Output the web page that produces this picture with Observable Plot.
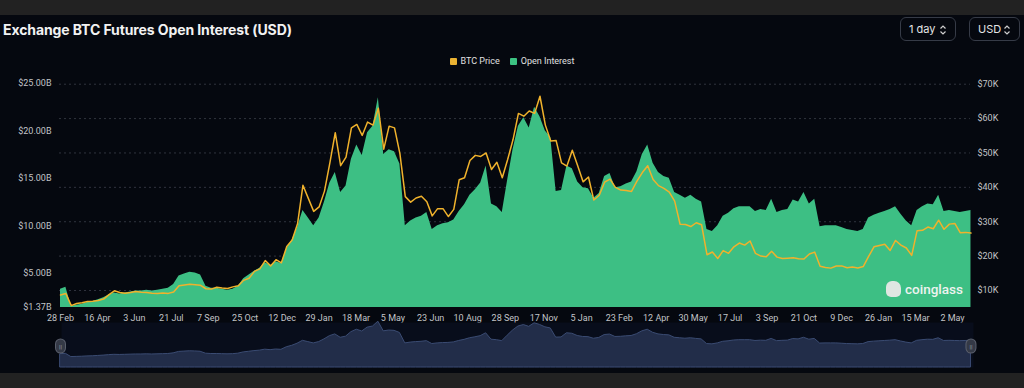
<!DOCTYPE html>
<html><head><meta charset="utf-8">
<script src="https://cdn.jsdelivr.net/npm/d3@7"></script>
<script src="https://cdn.jsdelivr.net/npm/@observablehq/plot@0.6"></script>
<style>
html,body{margin:0;padding:0;}
body{width:1024px;height:388px;background:#05080f;position:relative;overflow:hidden;font-family:"Inter","Liberation Sans",sans-serif;}
#topbar{position:absolute;left:0;top:0;width:1024px;height:15px;background:#222222;}
#botbar{position:absolute;left:0;top:373px;width:1024px;height:15px;background:#222222;}
#title{position:absolute;left:3px;top:21px;font-size:14px;font-weight:700;color:#f2f2f2;white-space:nowrap;letter-spacing:-0.1px;}
.btn{position:absolute;top:17px;height:24px;border:1px solid #363b47;border-radius:6px;box-sizing:border-box;color:#e4e4e4;font-size:11px;display:flex;align-items:center;padding-left:8px;font-family:"Inter",sans-serif;}
.btn svg{position:absolute;right:8px;top:6px;}
#legend{position:absolute;top:56px;left:0;width:1024px;display:flex;justify-content:center;gap:10px;font-size:9px;color:#e0e0e0;font-family:"Roboto",sans-serif;}
#legend span{display:flex;align-items:center;gap:4px;}
#legend i{display:inline-block;width:7px;height:7px;border-radius:1px;}
#main{position:absolute;left:0;top:70px;}
#nav{position:absolute;left:0;top:320px;}
#wm{position:absolute;left:886px;top:281px;display:flex;align-items:center;gap:4px;color:#eef3f0;font-family:"Roboto",sans-serif;font-weight:500;font-size:13.5px;}
#wm b{display:inline-block;width:15px;height:16px;background:#dfe6e2;border-radius:6px 7px 5px 5px;}
</style></head>
<body>
<div id="topbar"></div>
<div id="title">Exchange BTC Futures Open Interest (USD)</div>
<div class="btn" style="left:900px;width:56px;">1 day<svg width="8" height="12" viewBox="0 0 8 12"><path d="M1.5 4.5 L4 2 L6.5 4.5 M1.5 7.5 L4 10 L6.5 7.5" fill="none" stroke="#cfcfcf" stroke-width="1.2"/></svg></div>
<div class="btn" style="left:969px;width:51px;">USD<svg width="8" height="12" viewBox="0 0 8 12"><path d="M1.5 4.5 L4 2 L6.5 4.5 M1.5 7.5 L4 10 L6.5 7.5" fill="none" stroke="#cfcfcf" stroke-width="1.2"/></svg></div>
<div id="legend"><span><i style="background:#ebb232"></i>BTC Price</span><span><i style="background:#3cc282"></i>Open Interest</span></div>
<div id="main"></div>
<div id="nav"></div>
<div id="wm"><b></b>coinglass</div>
<div id="botbar"></div>
<script>
// weekly samples starting at this date
const weekStart = "2020-02-28";
// Open interest, billions USD
const oiB = [
3.3,3.5,1.5,1.6,1.7,1.9,2.0,2.2,2.4,2.7,2.9,2.8,2.9,3.0,3.1,3.1,3.2,3.1,3.2,3.3,3.4,3.8,4.7,4.9,5.1,5.0,4.8,3.6,3.4,3.4,3.3,3.2,3.3,3.6,4.4,4.8,5.2,5.5,6.1,5.8,6.2,6.0,7.6,8.5,
9.8,11.6,10.8,10.0,10.8,12.5,14.5,15.6,13.5,14.2,17.0,18.5,17.4,19.8,20.5,23.5,17.5,18.0,17.8,16.5,10.0,10.5,10.8,11.0,11.4,9.6,10.0,10.2,10.3,10.6,11.5,12.2,13.2,13.8,14.5,16.3,12.3,12.0,11.4,14.8,18.0,20.5,21.4,20.3,22.5,21.5,20.0,19.3,13.6,13.7,16.3,16.0,14.6,
14.0,13.9,12.9,13.4,15.2,15.5,14.0,14.1,14.4,14.6,15.7,17.5,18.5,16.6,15.6,15.2,15.0,13.5,13.2,12.9,13.2,12.8,12.5,9.6,9.4,10.0,11.0,11.3,11.8,12.0,12.0,12.0,11.5,11.7,11.6,12.8,11.4,11.6,11.7,12.7,12.5,13.5,12.3,12.8,9.9,10.0,10.0,10.0,9.8,9.6,9.5,9.4,
9.6,10.8,11.1,11.3,11.5,11.7,12.0,11.2,10.5,10.0,11.6,12.0,12.3,12.2,13.2,11.5,11.6,11.5,11.4,11.5,11.6
];
// BTC price, thousands USD
const btcK = [
8.7,9.1,5.6,6.2,6.4,6.8,6.9,7.1,7.5,8.8,9.9,9.4,9.2,9.4,9.7,9.5,9.4,9.2,9.1,9.25,9.15,9.55,11.35,11.6,11.8,11.65,11.5,10.5,10.4,10.95,10.7,10.6,11.05,11.35,12.95,13.55,15.55,16.3,18.7,17.15,18.95,18.05,22.8,24.7,
29.4,40.6,36.8,33.0,34.3,38.9,47.1,55.9,46.3,48.8,57.3,58.3,55.1,59.0,58.1,63.0,51.1,57.8,57.3,49.8,37.3,35.7,36.9,37.4,35.8,31.7,33.8,33.8,31.5,33.6,42.2,42.8,47.8,49.3,49.0,50.0,45.2,47.3,42.8,48.1,53.9,61.5,60.7,62.2,61.5,66.5,58.1,53.5,53.6,47.1,46.2,50.8,46.3,
41.6,43.0,36.3,37.7,41.5,42.4,40.0,39.2,39.1,38.8,41.8,44.3,46.3,42.3,40.5,39.7,38.6,36.0,29.3,29.2,28.6,29.7,29.1,20.4,21.2,19.3,21.6,20.8,22.7,23.8,23.2,24.4,20.8,20.0,19.8,21.4,19.7,19.3,19.4,19.5,19.2,19.15,20.6,21.15,17.05,16.7,16.5,17.1,17.15,16.6,16.8,16.55,
16.95,19.9,22.7,23.1,23.45,21.65,24.55,23.2,22.35,20.2,27.4,27.5,28.45,27.95,30.45,27.8,29.3,29.5,26.8,26.9,26.7
];
const xTicks = ["2020-02-28","2020-04-16","2020-06-03","2020-07-21","2020-09-07","2020-10-25","2020-12-12","2021-01-29","2021-03-18","2021-05-05","2021-06-23","2021-08-10","2021-09-28","2021-11-17","2022-01-05","2022-02-23","2022-04-12","2022-05-30","2022-07-17","2022-09-03","2022-10-21","2022-12-09","2023-01-26","2023-03-15","2023-05-02"];
const leftTicks = [1.37,5,10,15,20,25];
const rightTicks = [10,20,30,40,50,60,70];

const start = new Date(weekStart);
const rows = oiB.map((v,i)=>({date:d3.utcDay.offset(start,7*i), oi:v, btc:btcK[i]}));
// second axis (BTC, K) expressed in OI units
const toB = k => 0.36265*k - 0.4605;
const toK = b => (b + 0.4605)/0.36265;
const xDomain = [new Date(xTicks[0]), new Date(xTicks[xTicks.length-1])];
const font = "Roboto, 'Liberation Sans', sans-serif";

const main = Plot.plot({
  width:1024, height:262,
  marginLeft:59, marginRight:54, marginTop:13, marginBottom:25,
  style:{background:"transparent", color:"#c2c4c8", fontFamily:font, fontSize:"9px"},
  x:{type:"utc", domain:xDomain, range:[60,952], label:null},
  y:{domain:[1.37,25], label:null},
  marks:[
    Plot.gridY(rightTicks.map(toB), {stroke:"#3b3f4a", strokeOpacity:0.8, strokeDasharray:"2,3"}),
    Plot.areaY(rows, {x:"date", y1:() => 1.37, y2:"oi", fill:"#3dbf84", curve:"linear"}),
    Plot.lineY(rows, {x:"date", y:d => toB(d.btc), stroke:"#f0b22c", strokeWidth:1.5, curve:"linear"}),
    Plot.axisY(leftTicks, {anchor:"left", tickSize:0, tickPadding:8, label:null, tickFormat:d => `$${d.toFixed(2)}B`}),
    Plot.axisY(rightTicks.map(toB), {anchor:"right", tickSize:0, tickPadding:7, label:null, tickFormat:b => `$${Math.round(toK(b))}K`}),
    Plot.axisX(xTicks.map(s => new Date(s)), {anchor:"bottom", tickSize:0, tickPadding:7, label:null, tickFormat:d3.utcFormat("%-d %b")})
  ]
});
document.getElementById("main").appendChild(main);

const ends = [rows[0].date, rows[rows.length-1].date];
const nav = Plot.plot({
  width:1024, height:53,
  marginLeft:61, marginRight:51, marginTop:2, marginBottom:6,
  style:{background:"transparent", fontFamily:font},
  x:{type:"utc", domain:xDomain, range:[60,952], axis:null},
  y:{domain:[-5,23], axis:null},
  marks:[
    Plot.frame({fill:"#080d1b", stroke:null}),
    Plot.areaY(rows, {x:"date", y1:-5, y2:"oi", fill:"#222d49", stroke:"#3a4b72", strokeWidth:1}),
    Plot.ruleX(ends, {x:d=>d, insetTop:22, insetBottom:19, stroke:"#5a5f6c", strokeWidth:11, strokeLinecap:"round"}),
    Plot.ruleX(ends, {x:d=>d, insetTop:22, insetBottom:19, stroke:"#343946", strokeWidth:9, strokeLinecap:"round"}),
    Plot.text(ends, {x:d=>d, frameAnchor:"middle", text:()=>"||", fill:"#9aa0ab", fontSize:6, dy:2})
  ]
});
document.getElementById("nav").appendChild(nav);
</script>
</body></html>
